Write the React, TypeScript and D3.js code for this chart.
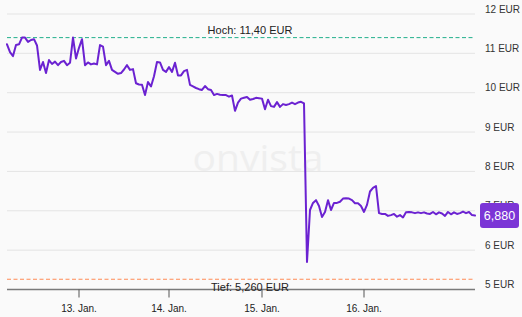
import React from "react";
import * as d3 from "d3";

const prices: number[] = [
  11.23, 11.03, 10.93, 11.21, 11.23, 11.4, 11.4, 11.29, 11.34, 11.36,
  11.2, 10.58, 10.78, 10.5, 10.83, 10.73, 10.79, 10.7, 10.78, 10.81,
  10.7, 10.76, 11.4, 10.87, 11.14, 11.36, 10.7, 10.77, 10.72, 10.74,
  10.72, 11.21, 11.17, 10.7, 10.81, 10.58, 10.53, 10.48, 10.5, 10.59,
  10.7, 10.58, 10.6, 10.24, 10.21, 10.2, 9.94, 10.27, 10.16, 10.42,
  10.78, 10.77, 10.58, 10.53, 10.65, 10.53, 10.76, 10.44, 10.44, 10.55,
  10.58, 10.2, 10.16, 10.12, 10.09, 10.07, 10.17, 10.09, 10.07, 9.94,
  9.97, 9.95, 9.94, 9.94, 9.9, 9.93, 9.54, 9.75, 9.85, 9.87,
  9.89, 9.82, 9.84, 9.87, 9.86, 9.85, 9.58, 9.82, 9.66, 9.64,
  9.76, 9.64, 9.71, 9.69, 9.71, 9.75, 9.71, 9.75, 9.77, 9.73,
  5.7, 7.02, 7.2, 7.27, 7.12, 6.84, 6.97, 7.27, 7.02, 7.2,
  7.2, 7.23, 7.31, 7.32, 7.31, 7.27, 7.19, 7.19, 7.12, 6.97,
  7.15, 7.49, 7.58, 7.63, 6.94, 6.92, 6.92, 6.87, 6.89, 6.92,
  6.85, 6.89, 6.83, 6.96, 6.97, 6.96, 6.94, 6.96, 6.94, 6.96,
  6.93, 6.92, 6.97, 6.91, 6.96, 6.93, 6.87, 6.97, 6.91, 6.96,
  6.92, 6.94, 6.98, 6.94, 6.97, 6.89, 6.88,
];

const dayTickIndex: number[] = [24, 54, 85, 119];
const dayTickLabels: string[] = ["13. Jan.", "14. Jan.", "15. Jan.", "16. Jan."];
const yTicks: number[] = [5, 6, 7, 8, 9, 10, 11, 12];
const yTickLabels: string[] = ["5 EUR", "6 EUR", "7 EUR", "8 EUR", "9 EUR", "10 EUR", "11 EUR", "12 EUR"];
const high = 11.4;
const highLabel = "Hoch: 11,40 EUR";
const low = 5.26;
const lowLabel = "Tief: 5,260 EUR";
const lastLabel = "6,880";

const W = 522;
const H = 317;
const FONT = "'Liberation Sans', Arial, sans-serif";

export default function App() {
  const x = d3.scaleLinear().domain([0, prices.length - 1]).range([7, 475]);
  const y = d3.scaleLinear().domain([5, 12]).range([289.5, 14]);
  const line = d3
    .line<number>()
    .x((_, i) => x(i))
    .y((d) => y(d));
  const last = prices[prices.length - 1];
  const x0 = x.range()[0];
  const x1 = x.range()[1];

  return (
    <svg
      width={W}
      height={H}
      style={{ position: "absolute", left: 0, top: 0, display: "block" }}
      fontFamily={FONT}
    >
      <rect x={0} y={0} width={W} height={H} fill="#fafafa" />
      <text
        x={258}
        y={171}
        textAnchor="middle"
        fontSize={36}
        fill="#efefef"
        fontFamily="'Open Sans', 'Noto Sans', sans-serif"
        textLength={131}
        lengthAdjust="spacingAndGlyphs"
      >
        onvista
      </text>
      {yTicks.map((t) =>
        t === 5 ? null : (
          <line key={t} x1={x0} x2={x1} y1={y(t)} y2={y(t)} stroke="#e4e4e4" strokeWidth={1} />
        )
      )}
      {yTicks.map((t, i) => (
        <text key={"l" + t} x={485} y={y(t) - 1.5} fontSize={10} fill="#333">
          {yTickLabels[i]}
        </text>
      ))}
      <line
        x1={x0}
        x2={x1}
        y1={y(high)}
        y2={y(high)}
        stroke="#22b08c"
        strokeWidth={1}
        strokeDasharray="4,2.5"
      />
      <text x={250} y={y(high) - 4} textAnchor="middle" fontSize={11} fill="#222">
        {highLabel}
      </text>
      <line
        x1={x0}
        x2={x1}
        y1={y(low)}
        y2={y(low)}
        stroke="#ff8a55"
        strokeWidth={1.2}
        strokeDasharray="4,2.5"
      />
      <line x1={x0} x2={x1} y1={y(5)} y2={y(5)} stroke="#7a7a7a" strokeWidth={1.6} />
      {dayTickIndex.map((idx, i) => (
        <g key={"t" + idx}>
          <line x1={x(idx)} x2={x(idx)} y1={y(5)} y2={y(5) + 8} stroke="#555" strokeWidth={1} />
          <text x={x(idx)} y={312} textAnchor="middle" fontSize={10} fill="#222">
            {dayTickLabels[i]}
          </text>
        </g>
      ))}
      <text x={250} y={y(5) + 1} textAnchor="middle" fontSize={11} fill="#222">
        {lowLabel}
      </text>
      <path
        d={line(prices) || ""}
        fill="none"
        stroke="#6b22d1"
        strokeWidth={2}
        strokeLinejoin="round"
        strokeLinecap="round"
      />
      <rect x={480} y={y(last) - 12.5} width={39} height={25} rx={3} fill="#7b35d6" />
      <text
        x={499.5}
        y={y(last) + 4.5}
        textAnchor="middle"
        fontSize={12.5}
        fill="#ffffff"
      >
        {lastLabel}
      </text>
    </svg>
  );
}
